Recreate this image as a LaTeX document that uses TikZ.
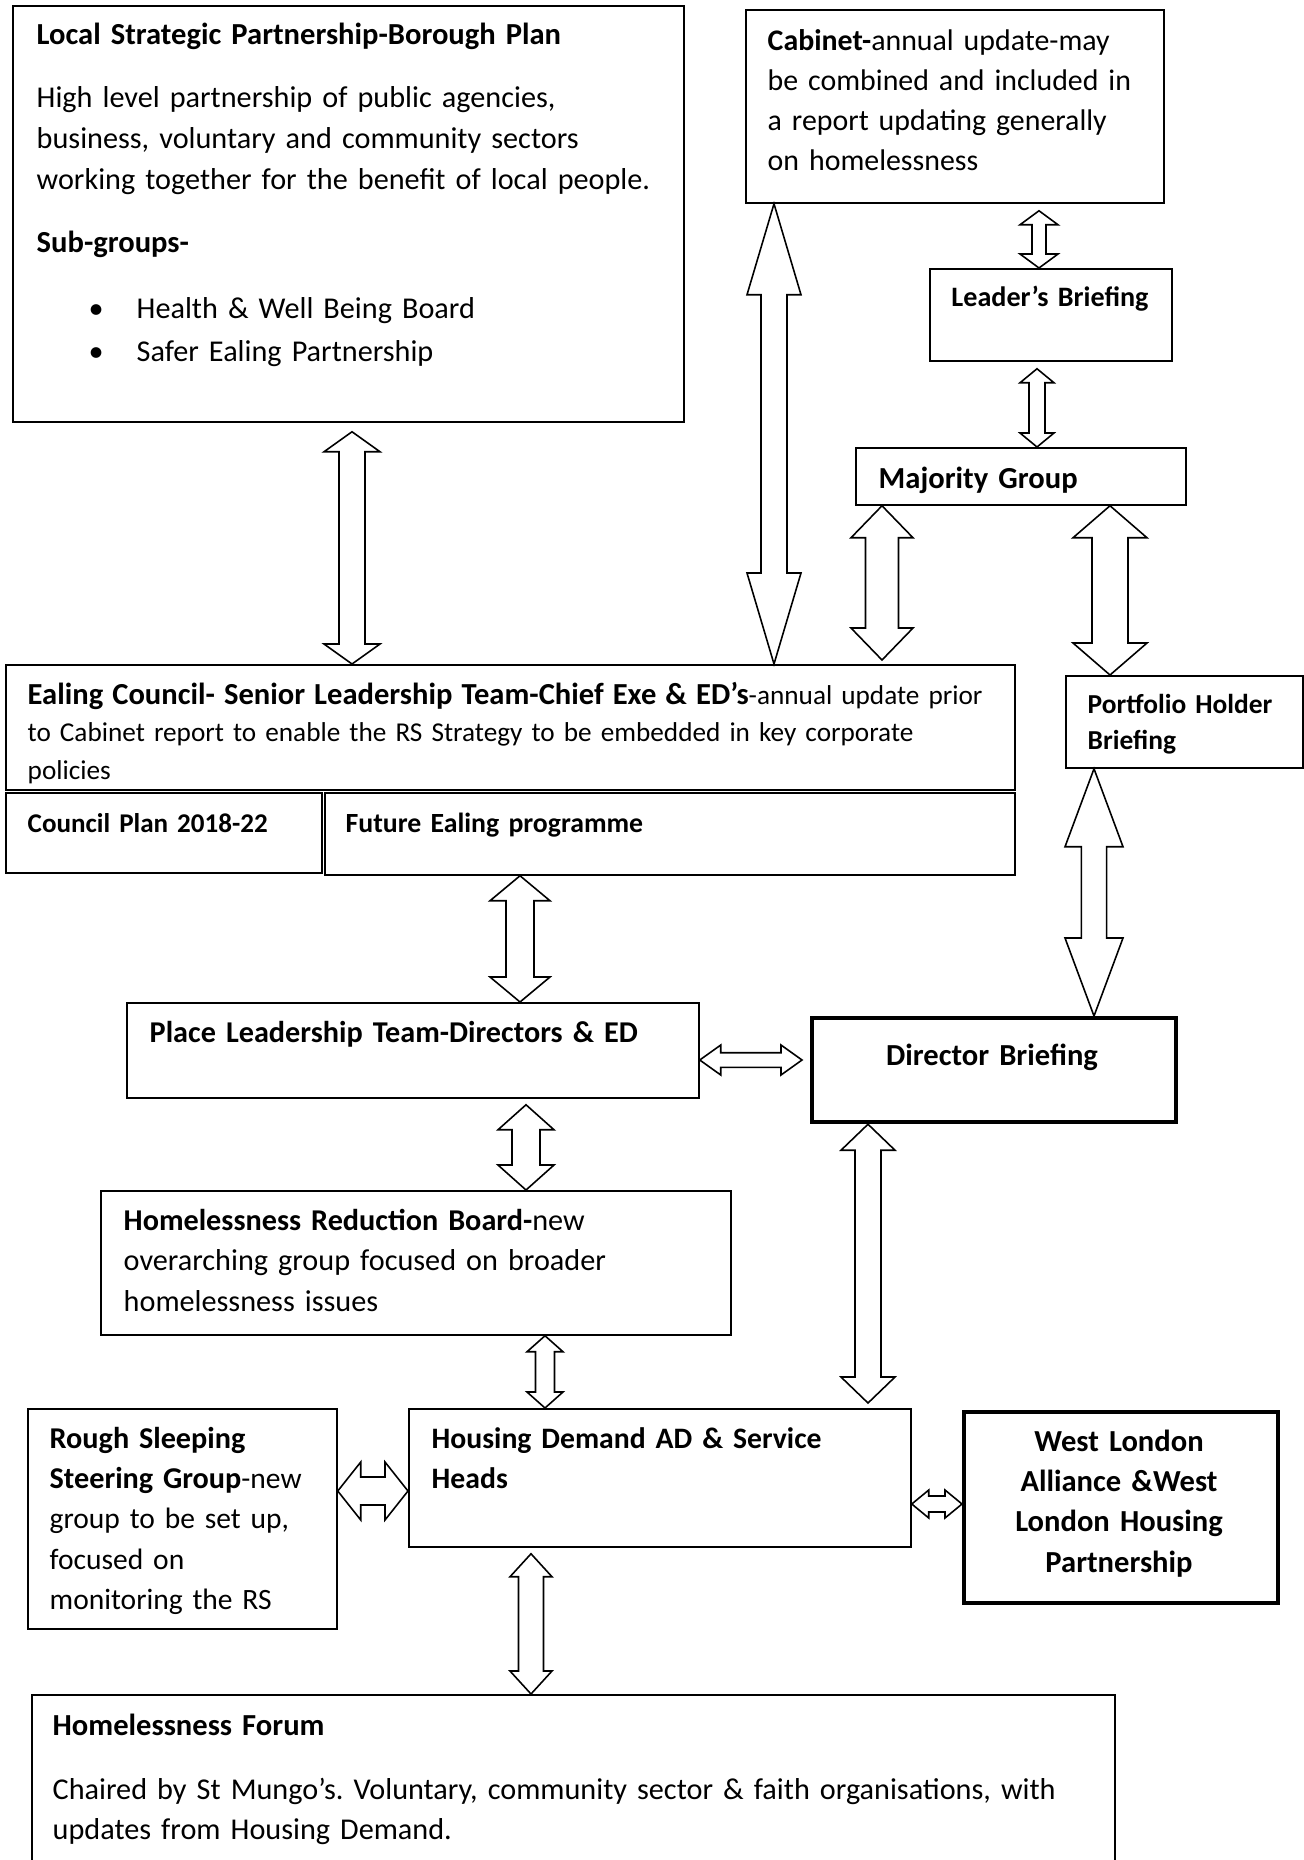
\documentclass[tikz,border=0pt]{standalone}
\usepackage{fontspec}
\setmainfont{Carlito}
\usetikzlibrary{calc}
\frenchspacing

\tikzset{
  box/.style={draw, line width=0.5pt, anchor=north west, inner sep=0pt},
  thickbox/.style={box, line width=1.2pt},
  txt/.style={anchor=base west, inner sep=0pt, text width=105mm, align=left,
    font=\fontsize{8.6}{11.6}\selectfont},
  ctxt/.style={anchor=base, inner sep=0pt, text width=#1, align=center,
    font=\fontsize{8.7}{11.6}\selectfont\bfseries},
  blockarr/.style={draw, line width=0.45pt, fill=white, line join=miter},
}

% outlined double block arrow: from, to, shaft half width, head half width, head length
\newcommand\blockarrow[5]{%
  \path #1 coordinate (ba-a);
  \path #2 coordinate (ba-b);
  \path ($(ba-a)!#5!(ba-b)$) coordinate (ba-c)
        ($(ba-b)!#5!(ba-a)$) coordinate (ba-d);
  \draw[blockarr] (ba-a)
    -- ($(ba-c)!#4!90:(ba-b)$) -- ($(ba-c)!#3!90:(ba-b)$)
    -- ($(ba-d)!#3!-90:(ba-a)$) -- ($(ba-d)!#4!-90:(ba-a)$)
    -- (ba-b)
    -- ($(ba-d)!#4!90:(ba-a)$) -- ($(ba-d)!#3!90:(ba-a)$)
    -- ($(ba-c)!#3!-90:(ba-b)$) -- ($(ba-c)!#4!-90:(ba-b)$)
    -- cycle;
}

\begin{document}
\begin{tikzpicture}[x=0.1mm, y=-0.1mm]

\useasboundingbox (0,0) rectangle (1303,1860);

% boxes
\node[box, minimum width=67.1mm, minimum height=41.6mm] (lsp) at (12,5) {};
\node[box, minimum width=41.8mm, minimum height=19.3mm] (cab) at (745,9) {};
\node[box, minimum width=24.2mm, minimum height=9.2mm] (ldr) at (929,268) {};
\node[box, minimum width=33.0mm, minimum height=5.7mm] (maj) at (855,447) {};
\node[box, minimum width=100.9mm, minimum height=12.5mm] (ecl) at (5,664) {};
\node[box, minimum width=31.6mm, minimum height=8.0mm] (cpl) at (5,792) {};
\node[box, minimum width=69.0mm, minimum height=8.2mm] (fep) at (324,792) {};
\node[box, minimum width=23.7mm, minimum height=9.2mm] (phb) at (1065,675) {};
\node[box, minimum width=57.2mm, minimum height=9.5mm] (plt) at (126,1002) {};
\node[thickbox, minimum width=36.4mm, minimum height=10.4mm] (dir) at (810,1016) {};
\node[box, minimum width=63.0mm, minimum height=14.4mm] (hrb) at (100,1190) {};
\node[box, minimum width=30.9mm, minimum height=22.0mm] (rsg) at (27,1408) {};
\node[box, minimum width=50.2mm, minimum height=13.8mm] (hsd) at (408,1408) {};
\node[thickbox, minimum width=31.4mm, minimum height=19.1mm] (wla) at (962,1410) {};
\node[box, minimum width=108.3mm, minimum height=20.0mm] (hfm) at (31,1694) {};

% texts
\node[txt] (lsp-t) at (36,45) {{\fontsize{8.7}{11.6}\selectfont\bfseries Local Strategic Partnership-Borough Plan}\\[2.2mm]
  High level partnership of public agencies,\\
  business, voluntary and community sectors\\
  working together for the benefit of local people.\\[2.2mm]
  {\fontsize{8.7}{11.6}\selectfont\bfseries Sub-groups-}\\[2.6mm]
  \hspace*{5.2mm}\makebox[4.8mm][l]{\textbullet}Health \& Well Being Board\\[0.2mm]
  \hspace*{5.2mm}\makebox[4.8mm][l]{\textbullet}Safer Ealing Partnership};
\node[txt, font=\fontsize{8.5}{11.45}\selectfont] (cab-t) at (767,50)
  {\textbf{Cabinet-}annual update-may\\ be combined and included in\\
   a report updating generally\\ on homelessness};
\node[ctxt=24mm, font=\fontsize{8}{10}\selectfont\bfseries] (ldr-t) at (1050,306) {Leader’s Briefing};
\node[txt, font=\fontsize{8.7}{11.6}\selectfont\bfseries] (maj-t) at (878,488) {Majority Group};
\node[txt, font=\fontsize{7.75}{10.8}\selectfont] (ecl-t) at (27,704)
  {{\fontsize{8.7}{10.8}\selectfont\bfseries Ealing Council- Senior Leadership Team-Chief Exe \& ED’s}-annual update prior\\
   to Cabinet report to enable the RS Strategy to be embedded in key corporate\\
   policies};
\node[txt, font=\fontsize{7.7}{10.8}\selectfont\bfseries] (cpl-t) at (27,832) {Council Plan 2018-22};
\node[txt, font=\fontsize{7.9}{10.8}\selectfont\bfseries] (fep-t) at (345,832) {Future Ealing programme};
\node[txt, font=\fontsize{7.8}{10.5}\selectfont\bfseries] (phb-t) at (1087,713) {Portfolio Holder\\Briefing};
\node[txt, font=\fontsize{8.6}{11.6}\selectfont\bfseries] (plt-t) at (149,1042) {Place Leadership Team-Directors \& ED};
\node[ctxt=36mm] (dir-t) at (992,1065) {Director Briefing};
\node[txt] (hrb-t) at (123,1230)
  {\textbf{Homelessness Reduction Board-}new\\ overarching group focused on broader\\ homelessness issues};
\node[txt, font=\fontsize{8.4}{11.5}\selectfont] (rsg-t) at (49,1448)
  {{\fontsize{8.6}{11.5}\selectfont\bfseries Rough Sleeping}\\ {\fontsize{8.6}{11.5}\selectfont\bfseries Steering Group}-new\\ group to be set up,\\ focused on\\ monitoring the RS};
\node[txt, font=\fontsize{8.45}{11.6}\selectfont\bfseries] (hsd-t) at (431,1448) {Housing Demand AD \& Service\\Heads};
\node[ctxt=31mm, font=\fontsize{8.7}{11.5}\selectfont\bfseries] (wla-t) at (1119,1451)
  {West London\\ Alliance \&West\\ London Housing\\ Partnership};
\node[txt, font=\fontsize{8.6}{11.3}\selectfont] (hfm-t) at (52,1735)
  {{\fontsize{8.7}{11.3}\selectfont\bfseries Homelessness Forum}\\[2.5mm]
   Chaired by St Mungo’s. Voluntary, community sector \& faith organisations, with\\
   updates from Housing Demand.};

% arrows
\blockarrow{(lsp.south -| 352,0) ++(0,9)}{(ecl.north -| 352,0)}{1.3mm}{2.8mm}{2mm}
\blockarrow{(cab.south -| 774,0)}{(ecl.north -| 774,0)}{1.3mm}{2.7mm}{9.1mm}
\blockarrow{(cab.south -| 1039,0) ++(0,7)}{(ldr.north -| 1039,0)}{0.7mm}{1.9mm}{1.4mm}
\blockarrow{(ldr.south -| 1037,0) ++(0,7)}{(maj.north -| 1037,0)}{0.8mm}{1.7mm}{1.4mm}
\blockarrow{(maj.south -| 882,0)}{(ecl.north -| 882,0) ++(0,-4)}{1.65mm}{3.1mm}{3.2mm}
\blockarrow{(maj.south -| 1110,0)}{(phb.north -| 1110,0)}{1.8mm}{3.7mm}{3.2mm}
\blockarrow{(phb.south -| 1094,0)}{(dir.north -| 1094,0)}{1.26mm}{2.9mm}{7.8mm}
\blockarrow{(fep.south -| 520,0)}{(plt.north -| 520,0)}{1.4mm}{3mm}{2.5mm}
\blockarrow{(plt.east |- 0,1060)}{(dir.west |- 0,1060) ++(-8,0)}{0.73mm}{1.5mm}{2.1mm}
\blockarrow{(plt.south -| 526,0) ++(0,6)}{(hrb.north -| 526,0)}{1.4mm}{2.8mm}{2.5mm}
\blockarrow{(dir.south -| 868,0)}{(hsd.north -| 868,0) ++(0,-5)}{1.3mm}{2.7mm}{2.6mm}
\blockarrow{(hrb.south -| 545,0)}{(hsd.north -| 545,0)}{0.95mm}{1.8mm}{1.6mm}
\blockarrow{(rsg.east |- 0,1491)}{(hsd.west |- 0,1491)}{1.4mm}{2.9mm}{2.3mm}
\blockarrow{(hsd.east |- 0,1504)}{(wla.west |- 0,1504)}{0.8mm}{1.4mm}{1.7mm}
\blockarrow{(hsd.south -| 531,0) ++(0,6)}{(hfm.north -| 531,0)}{1.25mm}{2.1mm}{2.3mm}

\end{tikzpicture}
\end{document}
